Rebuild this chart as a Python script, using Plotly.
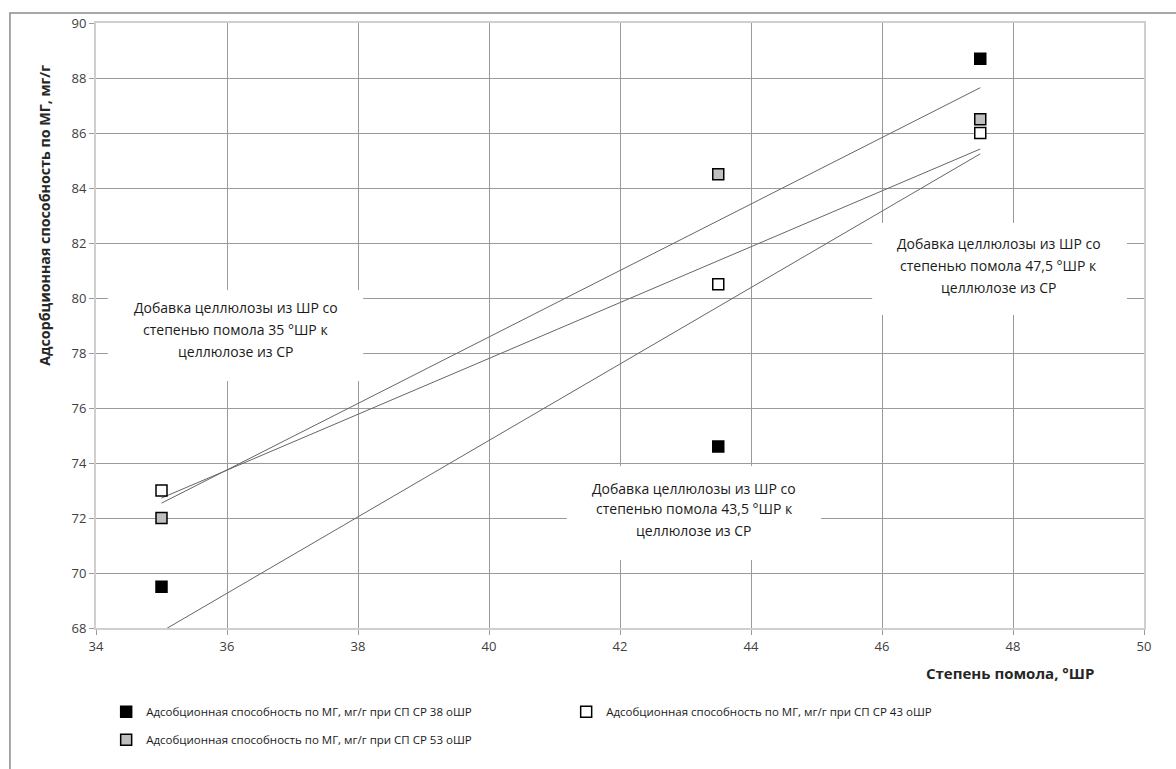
import numpy as np
import plotly.graph_objects as go

# Degree of beating of the added cellulose, °ШР
beating = [35, 43.5, 47.5]

# Adsorption capacity for methylene blue, mg/g, per base pulp beating degree
ads_38 = [69.5, 74.6, 88.7]
ads_43 = [73.0, 80.5, 86.0]
ads_53 = [72.0, 84.5, 86.5]

series_names = [
    "Адсобционная способность по МГ, мг/г при СП СР 38 оШР",
    "Адсобционная способность по МГ, мг/г при СП СР 43 оШР",
    "Адсобционная способность по МГ, мг/г при СП СР 53 оШР",
]
series_values = [ads_38, ads_43, ads_53]
fill_colors = ["#000000", "#ffffff", "#bfbfbf"]
legend_ids = ["legend", "legend", "legend2"]

# Text notes: lines, centre x, line y positions, white box extents (data units)
note_lines = [
    ["Добавка целлюлозы из ШР со", "степенью помола 35 °ШР к", "целлюлозе из СР"],
    ["Добавка целлюлозы из ШР со", "степенью помола 43,5 °ШР к", "целлюлозе из СР"],
    ["Добавка целлюлозы из ШР со", "степенью помола 47,5 °ШР к", "целлюлозе из СР"],
]
note_x = [36.13, 43.13, 47.78]
note_line_y = [
    [79.64, 78.84, 78.04],
    [73.09, 72.36, 71.56],
    [82.00, 81.20, 80.40],
]
note_box = [  # x0, x1, y0, y1
    (34.18, 38.08, 76.98, 80.29),
    (41.19, 45.07, 70.47, 73.89),
    (45.85, 49.74, 79.38, 82.73),
]

FONT = "Open Sans"

fig = go.Figure()

# Linear trend lines (least squares), drawn over the measured range
xs = np.array([min(beating), max(beating)])
for vals in series_values:
    k, b = np.polyfit(beating, vals, 1)
    fig.add_trace(go.Scatter(
        x=xs, y=k * xs + b, mode="lines",
        line=dict(color="#666666", width=1),
        showlegend=False, hoverinfo="skip",
    ))

for name, vals, col, lg in zip(series_names, series_values, fill_colors, legend_ids):
    fig.add_trace(go.Scatter(
        x=beating, y=vals, mode="markers", name=name, legend=lg,
        marker=dict(symbol="square", size=11, color=col,
                    line=dict(color="#000000", width=1.5)),
    ))

# White boxes behind the notes (cover the grid, stay under the data)
for (x0, x1, y0, y1) in note_box:
    fig.add_shape(type="rect", xref="x", yref="y", x0=x0, x1=x1, y0=y0, y1=y1,
                  fillcolor="#ffffff", line=dict(width=0), layer="between")

for lines, xc, ys in zip(note_lines, note_x, note_line_y):
    for txt, yv in zip(lines, ys):
        fig.add_annotation(
            x=xc, y=yv, xref="x", yref="y", text=txt, showarrow=False,
            font=dict(family=FONT, size=14, color="#1a1a1a"),
        )

# Axis titles
fig.add_annotation(
    x=-0.0487, y=0.683, xref="paper", yref="paper",
    xanchor="center", yanchor="middle",
    text="<b>Адсорбционная способность по МГ, мг/г</b>",
    textangle=-90, showarrow=False,
    font=dict(family=FONT, size=14.25, color="#262626"),
)
fig.add_annotation(
    x=0.954, y=-0.075, xref="paper", yref="paper",
    xanchor="right", yanchor="middle",
    text="<b>Степень помола, °ШР</b>", showarrow=False,
    font=dict(family=FONT, size=15, color="#262626"),
)

# Chart frame
fig.add_shape(
    type="rect", xref="paper", yref="paper",
    x0=-0.0821, y0=-0.3, x1=1.05, y1=1.0165,
    line=dict(color="#8c8c8c", width=1.5), fillcolor="rgba(0,0,0,0)",
    layer="below",
)

axis_common = dict(
    showgrid=True, gridcolor="#9a9a9a", gridwidth=1,
    showline=True, linecolor="#cfcfcf", linewidth=2, mirror=True,
    ticks="outside", ticklen=5, tickcolor="#9a9a9a",
    tickfont=dict(family=FONT, size=13, color="#404040"),
    zeroline=False,
)

legend_common = dict(
    orientation="h", xanchor="left", yanchor="middle",
    entrywidth=415, entrywidthmode="pixels", itemwidth=30,
    font=dict(family=FONT, size=11.5, color="#1a1a1a"),
    bgcolor="rgba(0,0,0,0)",
)

fig.update_layout(
    width=1176, height=769,
    margin=dict(l=96, r=32, t=23, b=141),
    paper_bgcolor="#ffffff", plot_bgcolor="#ffffff",
    xaxis=dict(range=[34, 50], dtick=2, **axis_common),
    yaxis=dict(range=[68, 90], dtick=2, **axis_common),
    showlegend=True,
    legend=dict(x=0.0097, y=-0.1385, **legend_common),
    legend2=dict(x=0.0097, y=-0.1848, **legend_common),
)

fig.write_html("out.html")
